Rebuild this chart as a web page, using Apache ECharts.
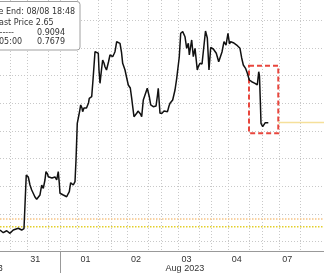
<!DOCTYPE html>
<html>
<head>
<meta charset="utf-8">
<script src="https://cdn.jsdelivr.net/npm/echarts@6/dist/echarts.min.js"></script>
<style>
html,body{margin:0;padding:0;background:#fff;}
#c{width:324px;height:273px;}
</style>
</head>
<body>
<div id="c"></div>
<script>
// x = trading-day index (0 = Jul 31 00:00, 1 = Aug 01, ... 5 = Aug 07), fraction = time of day
const priceTimes = [-0.198,-0.133,-0.065,0,0.065,0.099,0.165,0.232,0.278,0.308,0.323,0.347,0.363,0.397,0.431,0.462,0.496,0.530,0.565,0.595,0.629,0.661,0.694,0.714,0.744,0.760,0.794,0.833,0.863,0.893,0.927,0.958,0.978,0.992,1.022,1.058,1.091,1.125,1.151,1.177,1.204,1.230,1.256,1.290,1.310,1.335,1.355,1.379,1.403,1.429,1.442,1.468,1.488,1.518,1.534,1.558,1.573,1.597,1.621,1.647,1.687,1.716,1.752,1.766,1.786,1.815,1.839,1.865,1.885,1.915,1.931,1.954,1.984,2.014,2.038,2.063,2.083,2.103,2.117,2.143,2.183,2.212,2.236,2.262,2.282,2.312,2.347,2.371,2.387,2.415,2.431,2.460,2.490,2.514,2.540,2.565,2.589,2.613,2.645,2.679,2.724,2.764,2.792,2.817,2.843,2.897,2.927,2.942,2.976,3.016,3.056,3.095,3.125,3.155,3.175,3.228,3.274,3.308,3.359,3.387,3.427,3.452,3.472,3.506,3.538,3.558,3.605,3.637,3.671,3.716,3.740,3.770,3.810,3.849,3.879,3.915,3.948,3.982,4.034,4.093,4.141,4.173,4.206,4.246,4.286,4.325,4.355,4.379,4.431,4.498,4.563,4.597,4.629,4.673,4.708,4.748,4.796,4.861,4.907,4.935,4.950,4.966,4.980,5.014,5.040,5.065,5.093,5.125];
const priceValues = [0.711,0.662,0.698,0.651,0.711,0.680,0.742,0.711,0.738,0.765,1.704,1.704,1.668,1.523,1.433,1.397,1.307,1.265,1.280,1.343,1.523,1.464,1.614,1.764,1.722,1.673,1.659,1.650,1.677,1.668,1.614,1.764,1.559,1.374,1.361,1.343,1.361,1.312,1.361,1.402,1.565,1.541,1.523,1.583,1.975,2.637,2.606,2.841,2.968,2.913,2.847,2.913,2.937,2.913,2.877,3.004,3.088,3.112,3.117,3.419,3.930,3.924,3.901,3.599,3.359,3.599,3.780,3.726,3.659,3.599,3.568,3.744,3.870,3.852,3.839,3.888,3.930,4.033,4.110,4.105,4.081,3.924,3.720,3.653,3.599,3.473,3.329,3.347,3.274,3.088,2.968,2.756,2.787,2.818,2.859,2.890,2.805,2.756,3.058,3.027,3.269,3.117,2.968,2.940,2.937,2.949,3.148,3.269,2.818,2.818,2.859,2.890,2.847,2.949,2.998,3.058,3.238,3.449,3.839,4.262,4.291,4.321,4.200,3.991,4.081,3.870,4.141,3.839,3.991,3.599,3.671,3.720,3.708,3.720,4.303,4.177,3.599,4.005,3.978,3.901,3.749,3.720,3.924,4.110,4.050,4.262,4.069,4.110,4.092,4.050,3.991,3.816,3.689,3.630,3.545,3.419,3.388,3.359,3.329,3.568,3.491,3.058,2.637,2.576,2.606,2.648,2.624,2.648];

const lastPrice = 2.65;
const refHigh = 0.9094;
const refLow = 0.7679;

const dayLabels = ['31','01','02','03','04','07'];
const dayCenters = [0.5,1.5,2.5,3.5,4.5,5.5];
const monthLabels = ['Jul 2023','Aug 2023'];
const monthCenters = [-0.48,3.47];
const monthBreaks = [1];
const dayStarts = [0,1,2,3,4,5];
const gridHours = [0,8,18];
const yGrid = [0.5,1,1.5,2,2.5,3,3.5,4,4.5];

const xMin = -0.198, xMax = 6.23;
const yMin = 0.3195, yMax = 4.8628;

// highlighted box (time range, value range)
const boxTimes = [4.742, 5.323];
const boxValues = [3.677, 2.457];
const lastLineStart = 5.32;

const legendLines = ['e End: 08/08 18:48','ast Price 2.65','-----','05:00'];
const legendValues = ['0.9094','0.7679'];

const gridX = [];
dayStarts.forEach(d => gridHours.forEach(h => gridX.push(+(d + h/24).toFixed(4))));

const n = Math.min(priceTimes.length, priceValues.length);
const priceData = [];
for (let i = 0; i < n; i++) priceData.push([priceTimes[i], priceValues[i]]);

const FONT = 'Liberation Sans';
const LFONT = 'DejaVu Sans';

const chart = echarts.init(document.getElementById('c'), null, {renderer:'canvas'});
chart.setOption({
  animation: false,
  backgroundColor: '#ffffff',
  grid: {left: 0, right: 0, top: 0, bottom: 21.3, containLabel: false},
  xAxis: [{
    type: 'value', min: xMin, max: xMax,
    axisLine: {show: true, lineStyle: {color: '#999999', width: 1}},
    axisTick: {show: false, customValues: gridX},
    axisLabel: {
      customValues: dayCenters, margin: 3, fontSize: 9, fontFamily: FONT, color: '#333',
      formatter: v => { const i = dayCenters.findIndex(c => Math.abs(c - v) < 1e-6); return i >= 0 ? dayLabels[i] : ''; }
    },
    splitLine: {show: true, lineStyle: {color: '#c8c8c8', width: 1, type: [1, 2]}}
  }, {
    type: 'value', min: xMin, max: xMax, position: 'bottom',
    axisLine: {show: false},
    axisTick: {show: true, customValues: monthBreaks, length: 22, lineStyle: {color: '#999999', width: 1}},
    axisLabel: {
      customValues: [monthCenters[1]], margin: 12, fontSize: 9, fontFamily: FONT, color: '#333',
      formatter: v => { const i = monthCenters.findIndex(c => Math.abs(c - v) < 1e-6); return i >= 0 ? monthLabels[i] : ''; }
    },
    splitLine: {show: false}
  }],
  yAxis: {
    type: 'value', min: yMin, max: yMax,
    axisLine: {show: false},
    axisTick: {show: false, customValues: yGrid},
    axisLabel: {show: false},
    splitLine: {show: true, lineStyle: {color: '#c8c8c8', width: 1, type: [1, 2]}}
  },
  series: [{
    type: 'line', name: 'refHigh', data: [[xMin, refHigh], [xMax, refHigh]],
    showSymbol: false, silent: true, z: 2,
    lineStyle: {color: '#f5c384', width: 1.3, type: [1.5, 1.5]}
  }, {
    type: 'line', name: 'refLow', data: [[xMin, refLow], [xMax, refLow]],
    showSymbol: false, silent: true, z: 2,
    lineStyle: {color: '#e3cf2a', width: 1.5, type: [1.5, 1.5]}
  }, {
    type: 'line', name: 'last', data: [[lastLineStart, lastPrice], [xMax, lastPrice]],
    showSymbol: false, silent: true, z: 2,
    lineStyle: {color: '#f5e09a', width: 1.5}
  }, {
    type: 'line', name: 'Last Price', data: priceData,
    showSymbol: false, silent: true, z: 3,
    lineStyle: {color: '#111111', width: 1.5},
    markArea: {
      silent: true,
      itemStyle: {color: 'rgba(0,0,0,0)', borderColor: '#e8463d', borderWidth: 2, borderType: [5, 3]},
      data: [[{coord: [boxTimes[0], boxValues[0]]}, {coord: [boxTimes[1], boxValues[1]]}]]
    }
  }]
});

const julX = chart.convertToPixel({xAxisIndex: 0}, monthCenters[0]);
const axisY = chart.convertToPixel({yAxisIndex: 0}, yMin);
chart.setOption({
  graphic: [
    {type: 'text', z: 100, style: {text: monthLabels[0], x: julX, y: axisY + 12, align: 'center', verticalAlign: 'top', font: '9px "' + FONT + '"', fill: '#333'}},
    {type: 'rect', z: 100, shape: {x: -10, y: 1.5, width: 90, height: 48.5, r: 3}, style: {fill: '#ffffff', stroke: '#a0a0a0', lineWidth: 1}},
    {type: 'text', z: 101, style: {text: legendLines[0], x: -1.5, y: 12.2, verticalAlign: 'middle', font: '8px "' + LFONT + '"', fill: '#333'}},
    {type: 'text', z: 101, style: {text: legendLines[1], x: -1, y: 23.2, verticalAlign: 'middle', font: '8px "' + LFONT + '"', fill: '#333'}},
    {type: 'text', z: 101, style: {text: legendLines[2], x: -0.5, y: 33.3, verticalAlign: 'middle', font: '8px "' + LFONT + '"', fill: '#333'}},
    {type: 'text', z: 101, style: {text: legendValues[0], x: 37, y: 33.3, verticalAlign: 'middle', font: '8px "' + LFONT + '"', fill: '#333'}},
    {type: 'text', z: 101, style: {text: legendLines[3], x: -1, y: 42.4, verticalAlign: 'middle', font: '8px "' + LFONT + '"', fill: '#333'}},
    {type: 'text', z: 101, style: {text: legendValues[1], x: 37, y: 42.4, verticalAlign: 'middle', font: '8px "' + LFONT + '"', fill: '#333'}}
  ]
});
</script>
</body>
</html>
